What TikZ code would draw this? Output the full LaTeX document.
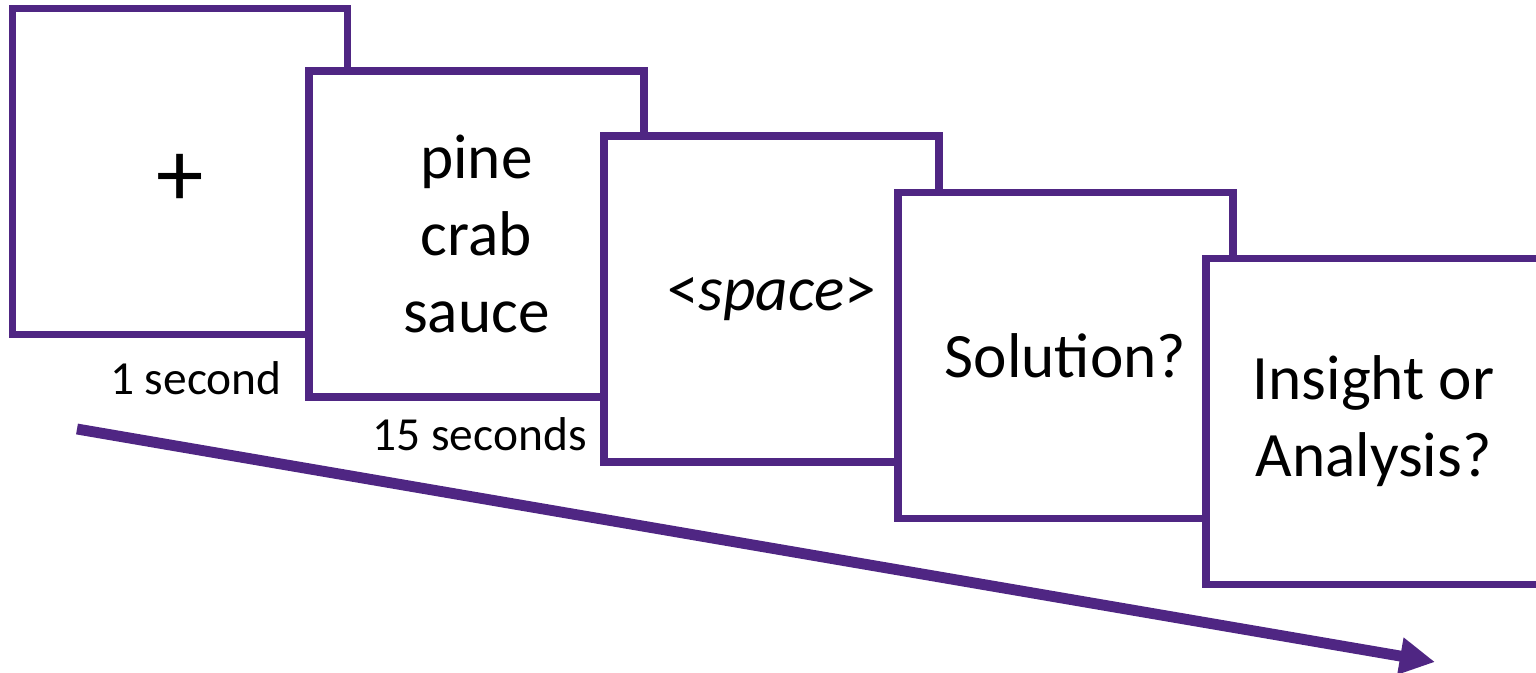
\documentclass[tikz,border=0pt]{standalone}
\usepackage{fontspec}
\setmainfont{Carlito}
\usepackage{xcolor}
\usepackage{tikz}
\usetikzlibrary{arrows.meta, positioning}
\definecolor{westpurple}{HTML}{4F2683}

\tikzset{
  screen/.style={draw=westpurple, line width=4.5pt, fill=white, rectangle,
                 minimum width=6.7cm, minimum height=6.52cm, inner sep=0pt,
                 align=center, font=\fontsize{36}{43.7}\selectfont},
  timelbl/.style={font=\fontsize{27}{32}\selectfont, inner sep=0pt},
  timeline/.style={draw=westpurple, line width=6.2pt,
                   -{Triangle[length=20pt, width=20pt]}}
}

\begin{document}
\begin{tikzpicture}[x=0.02cm, y=-0.02cm]
      \useasboundingbox (0,0) rectangle (1536,673);

      % screens of one trial
      \node[screen] (fix) at (180,171.5) {\fontsize{54}{54}\selectfont\raisebox{-20pt}[0pt][0pt]{+}};
      \node[screen] (words) at (476.5,234) {pine\\crab\\sauce};
      \node[screen] (press) at (771.5,299) {<\textit{space}>};
      \node[screen] (sol) at (1065.5,355.5) {Solution?};
      \node[screen] (judge) at (1373.5,421.5) {Insight or\\Analysis?};

      % durations
      \node[timelbl, anchor=base east] (dur1) at (282,394) {1 second};
      \node[timelbl, anchor=base east] (dur2) at (587,450) {15 seconds};

      % time
      \coordinate (tstart) at (77,429);
      \coordinate (tend) at (1435,662);
      \draw[timeline] (tstart) -- (tend);
    \end{tikzpicture}
\end{document}
